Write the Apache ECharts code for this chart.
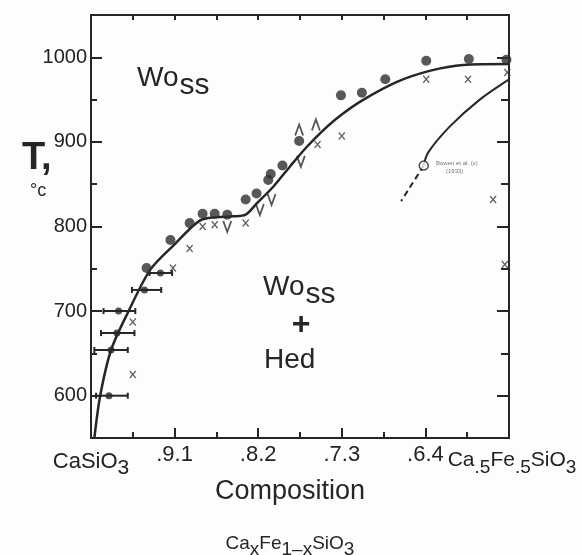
<!DOCTYPE html>
<html>
<head>
<meta charset="utf-8">
<script src="https://cdn.jsdelivr.net/npm/echarts@6/dist/echarts.min.js"></script>
<style>
html, body { margin: 0; background: #fdfdfb; }
#chart { width: 582px; height: 555px; }
</style>
</head>
<body>
<div id="chart"></div>
<script>
// composition x in CaxFe1-xSiO3, temperature in C
var curveX = [0.996, 0.989, 0.976, 0.955, 0.929, 0.900, 0.870, 0.850, 0.830, 0.815, 0.802, 0.782, 0.762, 0.742, 0.722, 0.702, 0.674, 0.634, 0.595, 0.555, 0.500];
var curveT = [550, 600, 654, 700, 749, 779, 807, 811, 812, 814, 827, 847, 871, 894, 914, 931, 950, 971, 984, 991, 992];

var bowenX = [0.500, 0.535, 0.571, 0.597, 0.602];
var bowenT = [974, 950, 918, 887, 872];
var dashX = [0.602, 0.629];
var dashT = [872, 830];

var dotX = [0.9335, 0.905, 0.882, 0.8665, 0.852, 0.837, 0.815, 0.802, 0.788, 0.785, 0.771, 0.751, 0.701, 0.676, 0.648, 0.599, 0.548, 0.503];
var dotT = [751, 784, 804, 815, 815, 814, 832, 839, 855, 862, 872, 901, 955, 958, 974, 996, 998, 997];

var crossX = [0.902, 0.950, 0.950, 0.882, 0.8665, 0.852, 0.815, 0.729, 0.700, 0.599, 0.549, 0.502, 0.519, 0.505];
var crossT = [751, 687, 625, 774, 800, 802, 804, 897, 907, 974, 974, 982, 832, 755];

var downX = [0.837, 0.798, 0.784, 0.749];
var downT = [800, 820, 832, 877];
var upX = [0.751, 0.731];
var upT = [914, 920];

// error bar points: centre, temperature, low end, high end
var barX = [0.917, 0.936, 0.967, 0.969, 0.976, 0.9785];
var barT = [745, 725, 700, 674, 654, 600];
var barLo = [0.930, 0.951, 0.985, 0.988, 0.996, 0.994];
var barHi = [0.903, 0.916, 0.947, 0.948, 0.956, 0.956];

var bowenPoint = [0.602, 872];

var xTickLabels = { 10: 'CaSiO{s|3}', 9: '.9.1', 8: '.8.2', 7: '.7.3', 6: '.6.4', 5: 'Ca{s|.5}Fe{s|.5}SiO{s|3}' };
var xLabelValues = [0.6, 0.7, 0.8, 0.9, 1.0];
var xEndValues = [0.5];
var yLabelValues = [600, 700, 800, 900, 1000];
var yMinorValues = [550, 600, 650, 700, 750, 800, 850, 900, 950, 1000, 1050];

function pairs(xs, ys) {
    return xs.map(function (x, i) { return [x, ys[i]]; });
}

var ink = '#262626';
var paper = '#fdfdfb';
var font = 'Liberation Sans';
var chart = echarts.init(document.getElementById('chart'));

var crossPath = 'path://M0,0L10,10M10,0L0,10';
var downPath = 'path://M0,0L5,12L10,0';
var upPath = 'path://M0,12L5,0L10,12';

function strokeMark(color, w) {
    return { color: 'rgba(0,0,0,0)', borderColor: color, borderWidth: w };
}

function xLabelStyle(size, subSize) {
    return {
        margin: 6, color: '#222', fontFamily: font, fontSize: size, verticalAlign: 'top',
        formatter: function (v) { return xTickLabels[Math.round(v * 10)] || ''; },
        rich: { s: { fontSize: subSize, fontFamily: font, color: '#222', padding: [14, 0, 0, 0] } }
    };
}

var baseX = {
    type: 'value', min: 0.5, max: 1.0, inverse: true,
    splitLine: { show: false },
    axisLine: { lineStyle: { color: ink, width: 2 } }
};
var baseY = {
    type: 'value', min: 550, max: 1050,
    splitLine: { show: false },
    axisLine: { lineStyle: { color: ink, width: 2 } }
};

chart.setOption({
    backgroundColor: paper,
    animation: false,
    grid: { left: 91, right: 73, top: 15, bottom: 117, outerBoundsMode: 'none', containLabel: false },
    xAxis: [
        Object.assign({}, baseX, {
            position: 'bottom', interval: 0.1,
            axisTick: { inside: true, length: 10, lineStyle: { color: ink, width: 2 } },
            minorTick: { show: true, splitNumber: 2, length: 6, lineStyle: { color: ink, width: 2 } },
            axisLabel: Object.assign({ customValues: xLabelValues }, xLabelStyle(22, 21))
        }),
        Object.assign({}, baseX, {
            position: 'top', interval: 0.05,
            axisTick: { inside: true, length: 5, lineStyle: { color: ink, width: 2 } },
            axisLabel: { show: false }
        }),
        Object.assign({}, baseX, {
            position: 'bottom',
            axisLine: { show: false },
            axisTick: { show: false },
            axisLabel: Object.assign({ customValues: xEndValues, padding: [0, 0, 0, 6] }, xLabelStyle(21, 19))
        })
    ],
    yAxis: [
        Object.assign({}, baseY, {
            position: 'left', interval: 50,
            axisTick: { inside: true, length: 6, lineStyle: { color: ink, width: 2 } },
            axisLabel: {
                customValues: yLabelValues, margin: 4, color: '#222', fontFamily: font, fontSize: 20,
                formatter: function (v) { return String(v); }
            }
        }),
        Object.assign({}, baseY, {
            position: 'left',
            axisTick: { inside: true, length: 11, customValues: yLabelValues, lineStyle: { color: ink, width: 2 } },
            axisLabel: { show: false }
        }),
        Object.assign({}, baseY, {
            position: 'right',
            axisTick: { inside: true, length: 8, customValues: yMinorValues, lineStyle: { color: ink, width: 2 } },
            axisLabel: { show: false }
        }),
        Object.assign({}, baseY, {
            position: 'right',
            axisTick: { inside: true, length: 12, customValues: yLabelValues, lineStyle: { color: ink, width: 2 } },
            axisLabel: { show: false }
        })
    ],
    graphic: [
        { type: 'text', x: 22, y: 140, style: { text: 'T,', fill: ink, font: 'bold 38px ' + font } },
        { type: 'text', x: 30, y: 182, style: { text: '°c', fill: ink, font: '18px ' + font } },
        { type: 'text', x: 137, y: 55, style: {
            text: '{a|Wo}{b|ss}', fill: ink,
            rich: { a: { fontSize: 28, fontFamily: font, fill: ink }, b: { fontSize: 30, fontFamily: font, fill: ink, padding: [16, 0, 0, 1] } }
        } },
        { type: 'text', x: 263, y: 264, style: {
            text: '{a|Wo}{b|ss}', fill: ink,
            rich: { a: { fontSize: 28, fontFamily: font, fill: ink }, b: { fontSize: 30, fontFamily: font, fill: ink, padding: [16, 0, 0, 1] } }
        } },
        { type: 'text', x: 301, y: 325, style: { text: '+', fill: ink, font: 'bold 32px ' + font, textAlign: 'center', textVerticalAlign: 'middle' } },
        { type: 'text', x: 264, y: 346, style: { text: 'Hed', fill: ink, font: '28px ' + font } },
        { type: 'text', x: 436, y: 160, style: { text: 'Bowen et al. (x)', fill: '#777', font: '6px ' + font } },
        { type: 'text', x: 446, y: 168, style: { text: '(1933)', fill: '#777', font: '6px ' + font } },
        { type: 'text', x: 290, y: 478, style: { text: 'Composition', fill: ink, font: '27px ' + font, textAlign: 'center' } },
        { type: 'text', x: 290, y: 528, style: {
            text: 'Ca{s|x}Fe{s|1\u2013x}SiO{s|3}', fill: ink, textAlign: 'center',
            font: '19px ' + font,
            rich: { s: { fontSize: 19, fontFamily: font, fill: ink, padding: [12, 0, 0, 0] } }
        } }
    ],
    series: [
        {
            type: 'line', data: pairs(curveX, curveT), smooth: 0.3, showSymbol: false,
            lineStyle: { color: ink, width: 2.5 }, z: 3
        },
        {
            type: 'line', data: pairs(bowenX, bowenT), smooth: 0.3, showSymbol: false,
            lineStyle: { color: ink, width: 2 }, z: 3
        },
        {
            type: 'line', data: pairs(dashX, dashT), showSymbol: false,
            lineStyle: { color: ink, width: 2, type: [6, 4] }, z: 3
        },
        {
            type: 'custom', data: barX.map(function (x, i) { return [x, barT[i], barLo[i], barHi[i]]; }),
            renderItem: function (params, api) {
                var t = api.value(1);
                var a = api.coord([api.value(2), t]);
                var b = api.coord([api.value(3), t]);
                var st = { stroke: ink, lineWidth: 2 };
                return {
                    type: 'group',
                    children: [
                        { type: 'line', shape: { x1: a[0], y1: a[1], x2: b[0], y2: b[1] }, style: st },
                        { type: 'line', shape: { x1: a[0], y1: a[1] - 3, x2: a[0], y2: a[1] + 3 }, style: st },
                        { type: 'line', shape: { x1: b[0], y1: b[1] - 3, x2: b[0], y2: b[1] + 3 }, style: st }
                    ]
                };
            },
            z: 4
        },
        {
            type: 'scatter', data: pairs(barX, barT), symbol: 'circle', symbolSize: 7,
            itemStyle: { color: ink }, z: 5
        },
        {
            type: 'scatter', data: pairs(dotX, dotT), symbol: 'circle', symbolSize: 10,
            itemStyle: { color: '#2e2e2e' }, z: 5
        },
        {
            type: 'scatter', data: pairs(crossX, crossT), symbol: crossPath, symbolSize: [6, 7],
            itemStyle: strokeMark('#333', 1.3), z: 5
        },
        {
            type: 'scatter', data: pairs(downX, downT), symbol: downPath, symbolSize: [8, 11],
            itemStyle: strokeMark('#2a2a2a', 2), z: 5
        },
        {
            type: 'scatter', data: pairs(upX, upT), symbol: upPath, symbolSize: [8, 11],
            itemStyle: strokeMark('#2a2a2a', 2), z: 5
        },
        {
            type: 'scatter', data: [bowenPoint], symbol: 'circle', symbolSize: 9,
            itemStyle: { color: paper, borderColor: ink, borderWidth: 1.5 }, z: 6
        }
    ]
});
</script>
</body>
</html>
